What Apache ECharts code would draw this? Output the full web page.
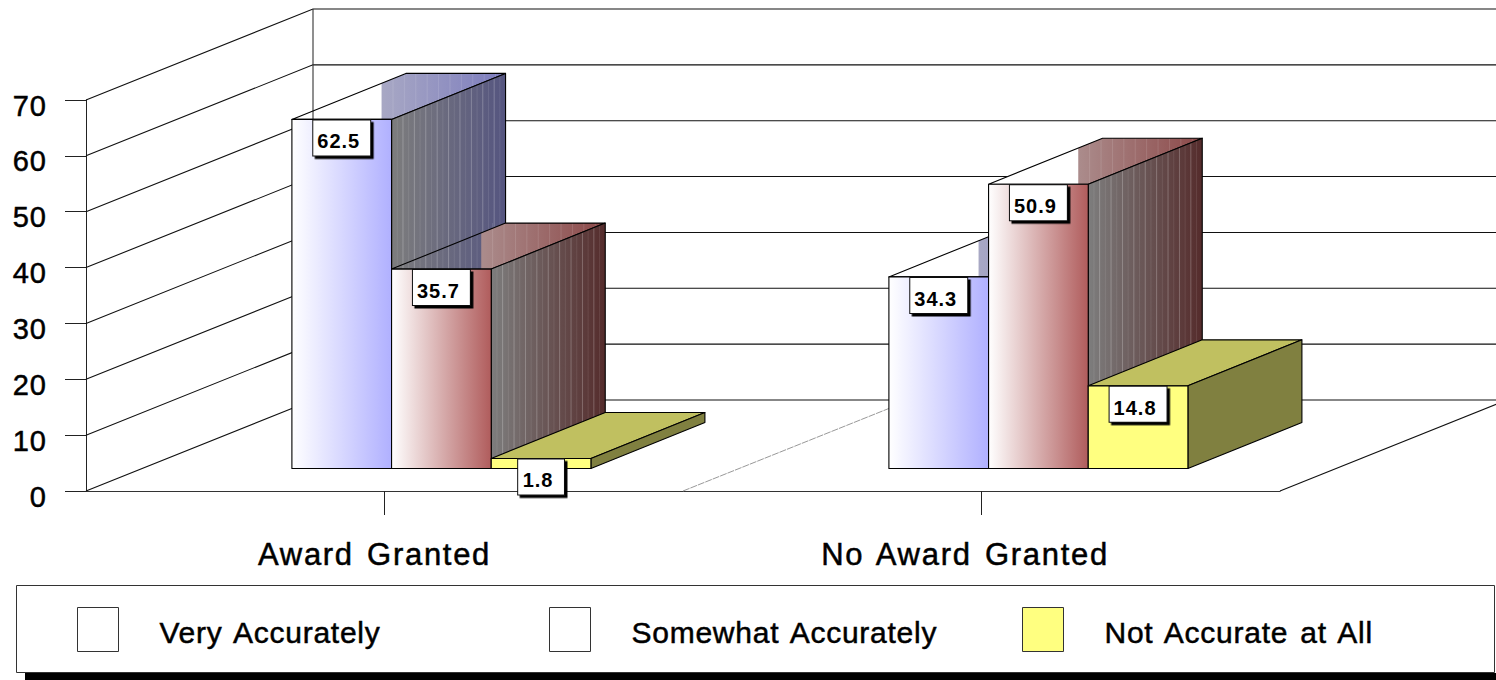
<!DOCTYPE html>
<html><head><meta charset="utf-8">
<style>html,body{margin:0;padding:0;background:#fff}#c{width:1496px;height:680px}</style>
<script src="https://cdn.jsdelivr.net/npm/echarts@6/dist/echarts.min.js"></script></head>
<body><div id="c"></div>
<script>
const categories = ['Award Granted', 'No Award Granted'];
const veryAccurately = [62.5, 34.3];
const somewhatAccurately = [35.7, 50.9];
const notAccurateAtAll = [1.8, 14.8];
const yTicks = [0, 10, 20, 30, 40, 50, 60, 70];

const G = echarts.graphic.LinearGradient;
const palette = [
  {front: () => new G(0,0,1,0,[{offset:0,color:'#ffffff'},{offset:1,color:'#b0b0ff'}]),
   side:  () => new G(0,0,1,0,[{offset:0,color:'#7d7d7d'},{offset:1,color:'#555580'}]),
   top:   () => new G(0,0,1,0,[{offset:0,color:'#a8a8c4'},{offset:1,color:'#7c7cbe'}]), striped:true},
  {front: () => new G(0,0,1,0,[{offset:0,color:'#ffffff'},{offset:1,color:'#b05c5c'}]),
   side:  () => new G(0,0,1,0,[{offset:0,color:'#7d7d7d'},{offset:1,color:'#552c2c'}]),
   top:   () => new G(0,0,1,0,[{offset:0,color:'#ab8c8c'},{offset:1,color:'#8c4848'}]), striped:true},
  {front: () => '#ffff80', side: () => '#808040', top: () => '#c0c060', striped:false}
];
const EDGE = '#000';
const barW = 99.67, groupOff = 92.6, depthX = 114, depthY = 46, floorY = 22.5, wallX = 227, wallY = 91, shadeIn = 10;

function wallItem(params, api) {
  const v = api.value(1), p = api.coord([0, v]), x0 = params.coordSys.x;
  const kids = [
    {type:'polyline', z2:0, shape:{points:[[x0,p[1]],[x0+wallX,p[1]-wallY],[1500,p[1]-wallY]]}, style:{fill:null,stroke:'#111',lineWidth:1.1}}
  ];
  if (v === 0) {
    const xr = x0 + params.coordSys.width, xm = x0 + params.coordSys.width/2;
    kids.push({type:'line', z2:0, shape:{x1:xr,y1:p[1],x2:xr+wallX,y2:p[1]-wallY}, style:{stroke:'#111',lineWidth:1.1}});
    kids.push({type:'line', z2:0, shape:{x1:xm,y1:p[1],x2:xm+wallX,y2:p[1]-wallY}, style:{stroke:'#999',lineWidth:1,lineDash:[7,1]}});
    const yTop = api.coord([0, 70])[1] - wallY;
    kids.push({type:'line', z2:2, shape:{x1:x0+wallX,y1:yTop,x2:x0+wallX,y2:p[1]-wallY}, style:{stroke:'#333',lineWidth:1.1}});
  }
  return {type:'group', children:kids};
}

function barRenderer(si) {
  const pal = palette[si], base = 10 + si*10;
  return function (params, api) {
    const c = api.value(0), val = api.value(1);
    const cx = api.coord([c, 0])[0], y0 = api.coord([c, 0])[1] - floorY;
    const top = y0 - api.size([0, val])[1];
    const L = cx - groupOff + si*barW, R = L + barW;
    const kids = [];
    const line = {stroke:EDGE, lineWidth:1.1, lineJoin:'round'};
    const topPts = [[L,top],[L+depthX,top-depthY],[R+depthX,top-depthY],[R,top]];
    if (pal.striped) {
      kids.push({type:'polygon', z2:1, shape:{points:topPts}, style:{fill:'#fff',stroke:null}});
      const sx = R - shadeIn, f = (sx-L)/depthX;
      kids.push({type:'polygon', z2:base, shape:{points:[[sx,top],[sx,top-depthY*f],[L+depthX,top-depthY],[R+depthX,top-depthY],[R,top]]}, style:{fill:pal.top()}});
      for (let i=1;i<=10;i++){
        const x = sx + i*11.4;
        const yb = top - depthY*(x-R)/depthX;
        kids.push({type:'line', z2:base, shape:{x1:x,y1:top-depthY,x2:x,y2:Math.min(top,x>R?yb:top)}, style:{stroke:'rgba(255,255,255,0.12)',lineWidth:1}});
      }
      kids.push({type:'polygon', z2:base+1, shape:{points:topPts}, style:Object.assign({fill:null},line)});
    } else {
      kids.push({type:'polygon', z2:base+1, shape:{points:topPts}, style:Object.assign({fill:pal.top()},line)});
    }
    kids.push({type:'polygon', z2:base+2, shape:{points:[[R,top],[R+depthX,top-depthY],[R+depthX,y0-depthY],[R,y0]]}, style:{fill:pal.side()}});
    if (pal.striped) {
      for (let i=1;i<20;i++){
        const x = R + i*depthX/20, k = (x-R)/depthX*depthY;
        kids.push({type:'line', z2:base+3, shape:{x1:x,y1:top-k,x2:x,y2:y0-k}, style:{stroke:i%2?'rgba(255,255,255,0.09)':'rgba(255,255,255,0.24)',lineWidth:1}});
      }
    }
    kids.push({type:'polygon', z2:base+4, shape:{points:[[R,top],[R+depthX,top-depthY],[R+depthX,y0-depthY],[R,y0]]}, style:Object.assign({fill:null},line)});
    kids.push({type:'rect', z2:base+5, shape:{x:L,y:top,width:barW,height:y0-top}, style:Object.assign({fill:pal.front()},line)});
    kids.push({type:'text', z2:60, x:(L+R)/2, y:top+1, style:{
      text:val.toFixed(1), font:'bold 20px "Liberation Sans"', fill:'#000', align:'center', verticalAlign:'top',
      backgroundColor:'#fff', borderColor:'#111', borderWidth:1, padding:[10,12,3,6], lineHeight:22,
      shadowColor:'#000', shadowOffsetX:2.5, shadowOffsetY:2.5, shadowBlur:0 }});
    return {type:'group', children:kids};
  };
}

const toPairs = a => a.map((v,i)=>[i,v]);
const names = ['Very Accurately','Somewhat Accurately','Not Accurate at All'];
const valueSets = [veryAccurately, somewhatAccurately, notAccurateAtAll];
const legendX = [77, 549, 1022];
const legendFill = ['#ffffff','#ffffff','#ffff80'];
const labelFont = {fontFamily:'Liberation Sans', textBorderColor:'#000', textBorderWidth:0.5, color:'#000'};

const option = {
  animation:false,
  backgroundColor:'#fff',
  grid:{left:86, top:100, width:1194, height:391},
  xAxis:{type:'category', data:categories,
    axisLine:{lineStyle:{color:'#333',width:1}},
    axisTick:{show:true,alignWithLabel:true,length:24,lineStyle:{color:'#222'}},
    axisLabel:{margin:48,interval:0,fontSize:31,...labelFont,
      formatter:(v,i)=>`{s${i}|${v}}`,
      rich:{s0:{...labelFont,fontSize:31,padding:[0,20,0,0]},s1:{...labelFont,fontSize:31,padding:[0,33,0,0]}}},
    splitLine:{show:false}},
  yAxis:{type:'value',min:0,max:70,interval:10,
    axisLine:{show:true,lineStyle:{color:'#222',width:1}},
    axisTick:{show:true,length:21,lineStyle:{color:'#222'}},
    axisLabel:{margin:39,fontSize:29,...labelFont,verticalAlign:'top',lineHeight:11},
    splitLine:{show:false}},
  legend:names.map((n,i)=>({
    data:[{name:n,icon:'rect',itemStyle:{color:legendFill[i],borderColor:'#333',borderWidth:1}}],
    left:legendX[i],top:607,padding:0,itemWidth:41,itemHeight:44,selectedMode:false,z:10,
    formatter:name=>`{a|${name}}`,
    textStyle:{...labelFont,fontSize:30,rich:{a:{...labelFont,fontSize:30,padding:[6,0,0,36]}}}})),
  graphic:[
    {type:'rect',z:-1,silent:true,shape:{x:25,y:673,width:1471,height:7},style:{fill:'#000'}},
    {type:'rect',z:-1,silent:true,shape:{x:16.5,y:585.5,width:1478,height:87},style:{fill:'#fff',stroke:'#333',lineWidth:1}}
  ],
  series:[
    {type:'custom',name:'wall',silent:true,z:2,renderItem:wallItem,data:yTicks.map(v=>[0,v]),legendHoverLink:false}
  ].concat(names.map((n,i)=>({type:'custom',name:n,silent:true,z:2,renderItem:barRenderer(i),data:toPairs(valueSets[i]),itemStyle:{color:legendFill[i]}})))
};
const chart = echarts.init(document.getElementById('c'),null,{renderer:'svg',width:1496,height:680});
const spacing = {20:1, 29:1, 30:0.75, 31:1.7};
function applySpacing(){
  document.querySelectorAll('#c svg text').forEach(t=>{
    const s = Math.round(parseFloat(getComputedStyle(t).fontSize));
    if (spacing[s]) { t.style.letterSpacing = spacing[s]+'px'; t.style.wordSpacing = s>=30 ? '3px':'0'; }
  });
}
chart.on('finished',applySpacing);
chart.setOption(option);
applySpacing();
</script></body></html>
